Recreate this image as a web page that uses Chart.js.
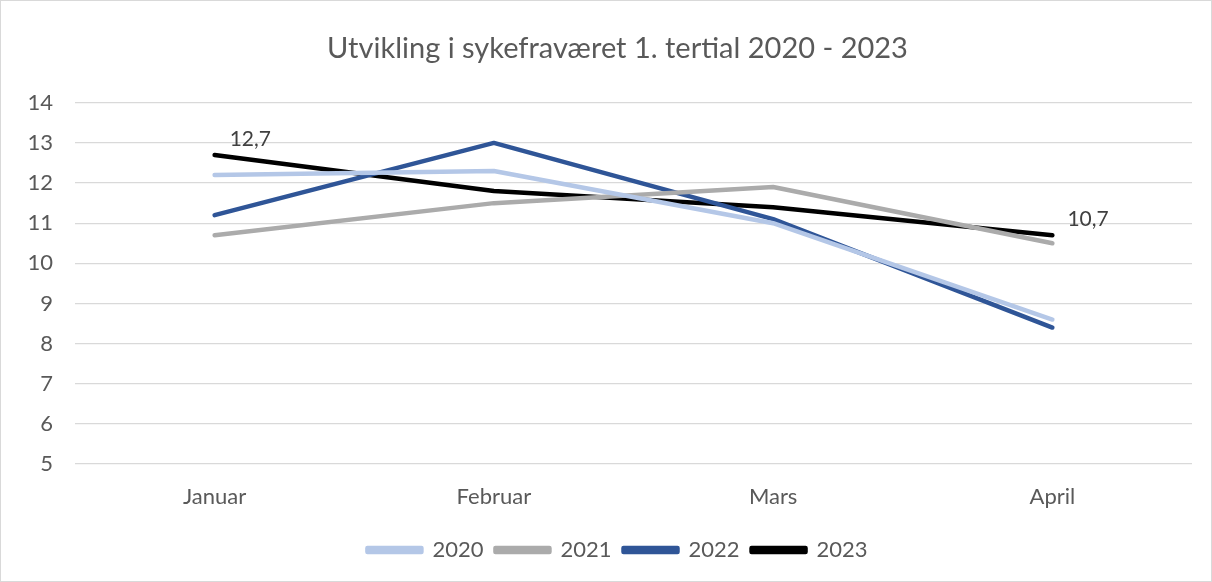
<!DOCTYPE html>
<html>
<head>
<meta charset="utf-8">
<script src="https://cdn.jsdelivr.net/npm/chart.js@4/dist/chart.umd.min.js"></script>
<style>
  html, body { margin: 0; padding: 0; background: #fff; }
  #wrap { width: 1212px; height: 582px; box-sizing: border-box; border: 1px solid #d9d9d9; }
</style>
</head>
<body>
<div id="wrap"><canvas id="chart" width="1210" height="580"></canvas></div>
<script>
// Data
const maaneder = ['Januar', 'Februar', 'Mars', 'April'];
const aar = ['2020', '2021', '2022', '2023'];
const verdier2020 = [12.2, 12.3, 11.0, 8.6];
const verdier2021 = [10.7, 11.5, 11.9, 10.5];
const verdier2022 = [11.2, 13.0, 11.1, 8.4];
const verdier2023 = [12.7, 11.8, 11.4, 10.7];
const yTicks = [5, 6, 7, 8, 9, 10, 11, 12, 13, 14];

const farger = ['#b4c7e7', '#ababab', '#2f5597', '#000000'];
const serier = [verdier2020, verdier2021, verdier2022, verdier2023];
const tekstFarge = '#595959';
const fontFamilie = 'Lato, "Liberation Sans", sans-serif';

// etiketter kun paa forste og siste punkt i 2023
const etikettPlugin = {
    id: 'etiketter',
    afterDatasetsDraw(chart) {
        const ctx = chart.ctx;
        const meta = chart.getDatasetMeta(3);
        ctx.save();
        ctx.font = '21px ' + fontFamilie;
        ctx.fillStyle = '#404040';
        ctx.textAlign = 'left';
        ctx.textBaseline = 'alphabetic';
        [0, 3].forEach(i => {
            const p = meta.data[i];
            const txt = verdier2023[i].toFixed(1).replace('.', ',');
            ctx.fillText(txt, p.x + 15, p.y - 9);
        });
        ctx.restore();
    }
};

// tittel og forklaring ligger litt til hoyre i originalen
const forskyvPlugin = {
    id: 'forskyv',
    afterLayout(chart) {
        const dx = 21;
        [chart.titleBlock, chart.legend].forEach(b => {
            if (b) { b.left += dx; b.right += dx; }
        });
    }
};

const ctx = document.getElementById('chart').getContext('2d');
const myChart = new Chart(ctx, {
    type: 'line',
    data: {
        labels: maaneder,
        datasets: serier.map((d, i) => ({
            label: aar[i],
            data: d,
            borderColor: farger[i],
            backgroundColor: farger[i],
            borderWidth: 4.5,
            pointRadius: 0,
            tension: 0,
            borderCapStyle: 'round',
            borderJoinStyle: 'round'
        }))
    },
    options: {
        responsive: false,
        animation: false,
        layout: { padding: { left: 0, right: 19, top: 0, bottom: 10 } },
        plugins: {
            title: {
                display: true,
                text: 'Utvikling i sykefraværet 1. tertial 2020 - 2023',
                color: tekstFarge,
                font: { family: fontFamilie, size: 29, weight: 'normal' },
                padding: { top: 30, bottom: 37 }
            },
            legend: {
                position: 'bottom',
                labels: {
                    color: tekstFarge,
                    font: { family: fontFamilie, size: 22 },
                    boxWidth: 54,
                    boxHeight: 4,
                    padding: 12
                }
            },
            tooltip: { enabled: false }
        },
        scales: {
            x: {
                offset: true,
                grid: { display: false },
                border: { display: false },
                ticks: { color: tekstFarge, font: { family: fontFamilie, size: 22 }, padding: 12 },
                afterFit: (scale) => { scale.height = 63; }
            },
            y: {
                min: 5,
                max: 14,
                afterBuildTicks: (scale) => { scale.ticks = yTicks.map(v => ({ value: v })); },
                grid: { color: '#d9d9d9', lineWidth: 1.3, drawTicks: false },
                border: { display: false },
                ticks: { color: tekstFarge, font: { family: fontFamilie, size: 22 }, padding: 22 },
                afterFit: (scale) => { scale.width = 74; }
            }
        }
    },
    plugins: [etikettPlugin, forskyvPlugin]
});
</script>
</body>
</html>
